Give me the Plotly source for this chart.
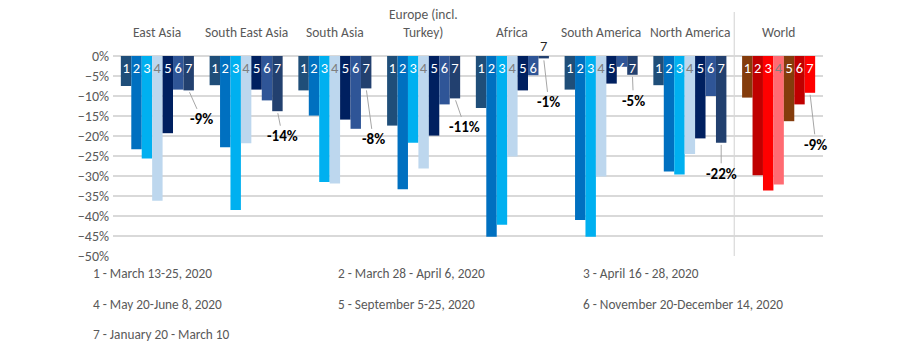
import plotly.graph_objects as go

regions = ["East Asia", "South East Asia", "South Asia", "Europe (incl.<br>Turkey)",
           "Africa", "South America", "North America", "World"]
period_labels = ["1 - March 13-25, 2020", "2 - March 28 - April 6, 2020", "3 - April 16 - 28, 2020",
                 "4 - May 20-June 8, 2020", "5 - September 5-25, 2020", "6 - November 20-December 14, 2020",
                 "7 - January 20 - March 10"]
p1 = [-7.5, -7.3, -8.6, -17.4, -13.0, -8.4, -7.3, -10.4]
p2 = [-23.3, -22.8, -14.9, -33.3, -45.2, -41.0, -28.9, -29.8]
p3 = [-25.6, -38.5, -31.5, -21.7, -42.2, -45.2, -29.6, -33.6]
p4 = [-36.2, -21.8, -31.9, -28.1, -25.1, -30.1, -24.5, -32.1]
p5 = [-19.3, -8.4, -15.9, -19.9, -8.6, -6.9, -20.6, -16.3]
p6 = [-8.4, -11.1, -18.2, -12.1, -4.8, -2.7, -10.0, -12.1]
p7 = [-8.6, -13.8, -8.1, -10.6, -0.6, -4.7, -21.7, -9.2]
periods = [p1, p2, p3, p4, p5, p6, p7]

blue_cols = ["#1F4E79", "#0070C0", "#00B0F0", "#BDD7EE", "#002060", "#2F5597", "#22406F"]
world_cols = ["#843C0C", "#C00000", "#FF0000", "#FF6B72", "#843C0C", "#C00000", "#FF0000"]

FONT = "Carlito, 'Liberation Sans Narrow', 'Arial Narrow', Calibri, 'Open Sans', sans-serif"
GRAY = "#595959"
BARGAP = 0.177
n = len(periods)
idx = list(range(len(regions)))

fig = go.Figure()
for k, vals in enumerate(periods):
    cols = [blue_cols[k]] * (len(regions) - 1) + [world_cols[k]]
    tcol = "#7F7F7F" if k == 3 else "white"
    fig.add_trace(go.Bar(
        x=idx, y=vals, name=period_labels[k],
        marker=dict(color=cols, line=dict(width=0)),
        text=[str(k + 1)] * len(vals),
        textposition=["inside" if abs(v) >= 1.5 else "none" for v in vals],
        insidetextanchor="start", constraintext="none", textangle=0,
        textfont=dict(family=FONT, size=14.5, color=tcol),
        cliponaxis=False, showlegend=False, hoverinfo="skip",
    ))

annotations = []
# region labels
for i, r in enumerate(regions):
    annotations.append(dict(x=i, y=1, xref="x", yref="paper", yanchor="bottom", yshift=13,
                            text=r, showarrow=False, font=dict(family=FONT, size=13.5, color=GRAY)))

def bar_x(i, k):
    return i + (-0.5 + (k + 0.5) / n) * (1 - BARGAP)

# labels for tiny bars placed above
for k, vals in enumerate(periods):
    for i, v in enumerate(vals):
        if abs(v) < 1.5:
            annotations.append(dict(x=bar_x(i, k), y=0, xref="x", yref="y", yanchor="bottom",
                                    text=str(k + 1), showarrow=False, yshift=-1,
                                    font=dict(family=FONT, size=14.5, color="#262626")))

# leader labels for period 7
offsets = [(13, 29), (5, 25), (7, 51), (10, 29), (5, 44), (1, 26), (0, 31), (6, 52)]
for i, v in enumerate(p7):
    ax, ay = offsets[i]
    annotations.append(dict(x=bar_x(i, 6), y=v, xref="x", yref="y", ax=ax, ay=ay,
                            text="<b>%d%%</b>" % round(v), showarrow=True, arrowhead=0,
                            arrowwidth=1, arrowcolor="#A6A6A6", standoff=2,
                            font=dict(family=FONT, size=15, color="black")))

# period legend text
leg_x = [-0.031, 0.314, 0.659]
leg_y = [-0.085, -0.24, -0.39]
for j, lab in enumerate(period_labels):
    annotations.append(dict(x=leg_x[j % 3], y=leg_y[j // 3], xref="paper", yref="paper",
                            xanchor="left", yanchor="middle", text=lab, showarrow=False,
                            font=dict(family=FONT, size=13.3, color=GRAY)))

fig.update_layout(
    width=899, height=347, margin=dict(l=113, r=76, t=56, b=91),
    paper_bgcolor="white", plot_bgcolor="white",
    barmode="group", bargap=BARGAP, bargroupgap=0,
    annotations=annotations,
    shapes=[dict(type="line", xref="x", yref="paper", x0=6.5, x1=6.5, y0=0, y1=1.22,
                 line=dict(color="#D9D9D9", width=1.2))],
    xaxis=dict(range=[-0.5, len(regions) - 0.5], showticklabels=False, showgrid=False,
               zeroline=False, showline=False, ticks=""),
    yaxis=dict(range=[-50, 0], dtick=5, ticksuffix="%", showgrid=True, gridcolor="#D9D9D9",
               gridwidth=1.5, zeroline=True, zerolinecolor="#D9D9D9", zerolinewidth=1.5,
               showline=False, ticks="", ticklabelstandoff=3,
               tickfont=dict(family=FONT, size=14, color=GRAY)),
    font=dict(family=FONT),
)
fig.write_html("out.html")
